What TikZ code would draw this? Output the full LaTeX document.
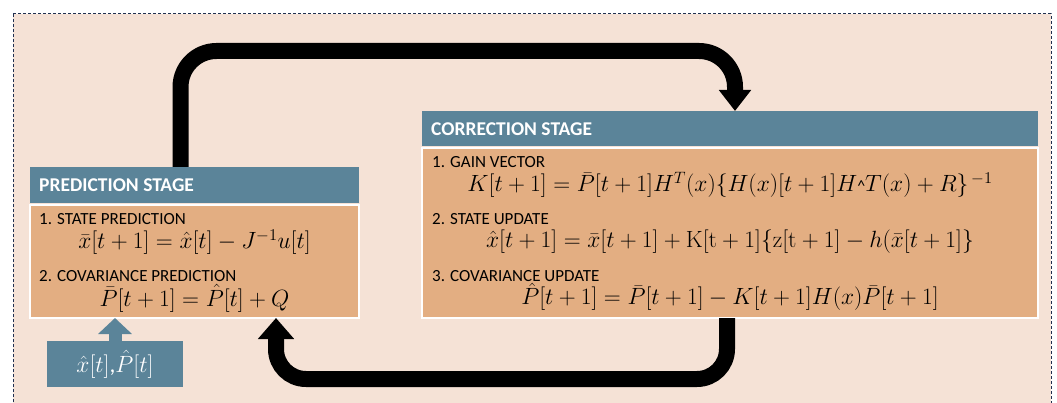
\RequirePackage{fix-cm}
\documentclass[tikz,border=0pt]{standalone}
\usepackage{amsmath}
\usepackage[no-math]{fontspec}
\setmainfont{Carlito}
\usetikzlibrary{arrows.meta,positioning,calc}

\definecolor{bgpeach}{RGB}{245,226,214}
\definecolor{stageblue}{RGB}{91,132,153}
\definecolor{stagetan}{RGB}{227,174,130}
\definecolor{framenavy}{RGB}{32,48,80}

\begin{document}
\begin{tikzpicture}[x=1pt, y=-1pt,
    stagehead/.style={fill=stageblue, anchor=north west, inner sep=0pt, outer sep=0pt},
    stagebody/.style={fill=stagetan, draw=white, line width=2.4pt, anchor=north west, inner sep=0pt, outer sep=0pt},
    stagetitle/.style={font=\fontsize{19.5}{22}\selectfont\bfseries, text=white, anchor=base west, inner sep=0pt},
    lbl/.style={font=\fontsize{17}{20}\selectfont, anchor=base west, inner sep=0pt},
    eqn/.style={font=\fontsize{23.5}{27}\selectfont, anchor=base, inner sep=0pt},
    initbox/.style={fill=stageblue, text=white, font=\fontsize{23.5}{27}\selectfont, minimum width=136pt, minimum height=46pt, inner sep=0pt, outer sep=0pt},
    cyclearr/.style={line width=16pt, -{Triangle[width=#1, length=21pt]}},
    cyclearr/.default=31pt,
    inarr/.style={draw=stageblue, line width=13pt, -{Triangle[width=33pt, length=16pt]}}
]
\fill[white] (0,0) rectangle (1057,403);
\useasboundingbox (0,0) rectangle (1057,403);
\draw[framenavy, fill=bgpeach, dash pattern=on 3pt off 2pt, line width=1pt] (13,14) rectangle (1051,430);

% prediction stage
\node[stagehead, minimum width=329pt, minimum height=36pt] (predhead) at (30,167) {};
\node[stagebody, minimum width=329pt, minimum height=113pt] (predbody) at (30,205) {};
\node[stagetitle] at ([shift={(9pt,-7pt)}]predhead.west) {PREDICTION STAGE};
\node[lbl] (sp) at ([shift={(9pt,-20pt)}]predbody.north west) {1. STATE PREDICTION};
\node[eqn] (speq) at ([yshift=-44pt]predbody.north) {$\bar{x}[t+1] = \hat{x}[t] - J^{-1}u[t]$};
\node[lbl] (cp) at ([shift={(9pt,-77pt)}]predbody.north west) {2. COVARIANCE PREDICTION};
\node[eqn] (cpeq) at ([yshift=-101pt]predbody.north) {$\bar{P}[t+1] = \hat{P}[t] + Q$};

% correction stage
\node[stagehead, minimum width=616pt, minimum height=35.5pt] (corrhead) at (422,111) {};
\node[stagebody, minimum width=616pt, minimum height=170pt] (corrbody) at (422,148) {};
\node[stagetitle] at ([shift={(9pt,-7pt)}]corrhead.west) {CORRECTION STAGE};
\node[lbl] (gv) at ([shift={(10pt,-20pt)}]corrbody.north west) {1. GAIN VECTOR};
\node[eqn] (gveq) at ([yshift=-44pt]corrbody.north) {$K[t+1] = \bar{P}[t+1]H^{T}(x)\{H(x)[t+1]H\text{\fontsize{16}{16}\selectfont\textasciicircum}T(x) + R\}^{\,-1}$};
\node[lbl] (su) at ([shift={(10pt,-77pt)}]corrbody.north west) {2. STATE UPDATE};
\node[eqn] (sueq) at ([yshift=-100pt]corrbody.north) {$\hat{x}[t+1] = \bar{x}[t+1] + \mathrm{K[t+1]}\{\mathrm{z[t+1]} - h(\bar{x}[t+1]\}$};
\node[lbl] (cu) at ([shift={(10pt,-134pt)}]corrbody.north west) {3. COVARIANCE UPDATE};
\node[eqn] (cueq) at ([yshift=-157pt]corrbody.north) {$\hat{P}[t+1] = \bar{P}[t+1] - K[t+1]H(x)\bar{P}[t+1]$};

% initial state
\node[initbox] (init) at (115,364) {$\hat{x}[t]$,$\hat{P}[t]$};

% connectors
\draw[inarr] (init.north) -- (init.north |- predbody.south);
\draw[cyclearr, rounded corners=36pt] ([xshift=150.5pt]predhead.north west) -- ++(0,-116) -| ([xshift=313pt]corrhead.north west);
\draw[cyclearr=35pt, rounded corners=30pt] ([xshift=305pt]corrbody.south west) -- ++(0,61) -| ([xshift=246pt]predbody.south west);
\end{tikzpicture}
\end{document}
